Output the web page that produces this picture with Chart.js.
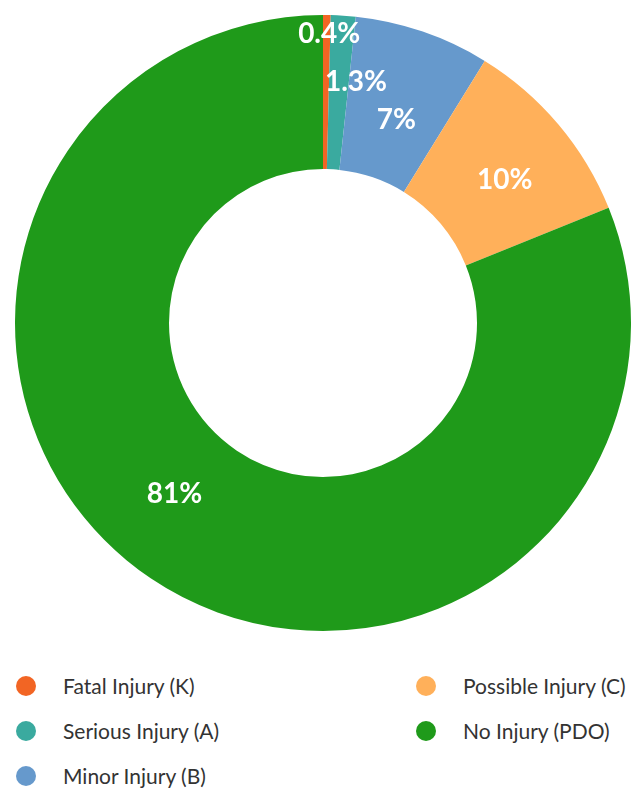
<!DOCTYPE html>
<html>
<head>
<meta charset="utf-8">
<script src="https://cdn.jsdelivr.net/npm/chart.js@4/dist/chart.umd.min.js"></script>
<style>
  body { margin: 0; background: #fff; font-family: "Lato", "Open Sans", sans-serif; }
  #wrap { position: relative; width: 644px; height: 646px; }
  #legend { position: relative; width: 644px; height: 143px; }
  .item { position: absolute; display: flex; align-items: center; font-size: 21px; color: #333; line-height: 24px; }
  .dot { width: 20px; height: 20px; border-radius: 50%; margin-right: 27px; }
</style>
</head>
<body>
<div id="wrap"><canvas id="chart"></canvas></div>
<div id="legend"></div>
<script>
// data
const categories = ["Fatal Injury (K)", "Serious Injury (A)", "Minor Injury (B)", "Possible Injury (C)", "No Injury (PDO)"];
const shares = [0.4, 1.3, 7.1, 10.1, 81.1];
const shareLabels = ["0.4%", "1.3%", "7%", "10%", "81%"];
const colors = ["#F26524", "#3AAA9F", "#6699CC", "#FFB05A", "#1F9A1A"];

// label placement tweaks (angle shift in degrees, fraction across the ring)
const labelAngleShift = [0.5, 4, 1, 2, 7];
const labelRadiusFrac = [0.88, 0.58, 0.4, 0.5, 0.47];

const sliceLabels = {
  id: "sliceLabels",
  afterDatasetsDraw(chart) {
    const ctx = chart.ctx;
    const meta = chart.getDatasetMeta(0);
    ctx.save();
    ctx.fillStyle = "#fff";
    ctx.font = "bold 28px Lato, sans-serif";
    ctx.textAlign = "center";
    ctx.textBaseline = "middle";
    meta.data.forEach((arc, i) => {
      const p = arc.getProps(["x", "y", "startAngle", "endAngle", "innerRadius", "outerRadius"], true);
      const a = (p.startAngle + p.endAngle) / 2 + labelAngleShift[i] * Math.PI / 180;
      const r = p.innerRadius + (p.outerRadius - p.innerRadius) * labelRadiusFrac[i];
      ctx.fillText(shareLabels[i], p.x + r * Math.cos(a), p.y + r * Math.sin(a));
    });
    ctx.restore();
  }
};

const chart = new Chart(document.getElementById("chart"), {
  type: "doughnut",
  data: {
    labels: categories,
    datasets: [{
      data: shares,
      backgroundColor: colors,
      borderWidth: 0,
    }],
  },
  options: {
    responsive: true,
    maintainAspectRatio: false,
    animation: false,
    cutout: "50%",
    layout: { padding: { top: 14, bottom: 14, left: 15, right: 13 } },
    plugins: {
      legend: { display: false },
      tooltip: { enabled: false },
    },
  },
  plugins: [sliceLabels],
});

// html legend, two columns filled top to bottom
const legendEl = document.getElementById("legend");
const items = chart.options.plugins.legend.labels.generateLabels(chart);
items.forEach((it, i) => {
  const col = i < 3 ? 0 : 1;
  const row = i < 3 ? i : i - 3;
  const div = document.createElement("div");
  div.className = "item";
  div.style.left = (col === 0 ? 16 : 416) + "px";
  div.style.top = (28 + row * 45) + "px";
  div.innerHTML = '<span class="dot" style="background:' + it.fillStyle + '"></span>' + it.text;
  legendEl.appendChild(div);
});
</script>
</body>
</html>
